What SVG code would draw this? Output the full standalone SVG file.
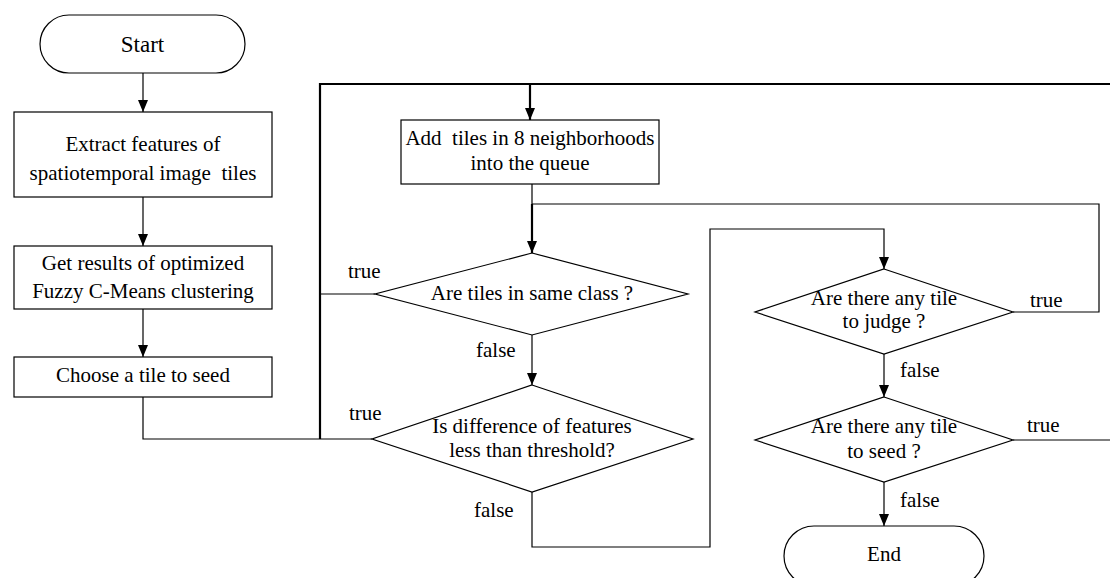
<svg xmlns="http://www.w3.org/2000/svg" width="1110" height="578" viewBox="0 0 1110 578">
  <defs>
    <marker id="arrow" viewBox="0 0 12 10" refX="12" refY="5" markerWidth="12" markerHeight="10" markerUnits="userSpaceOnUse" orient="auto">
      <path d="M0,0 L12,5 L0,10 z" fill="#000"/>
    </marker>
  </defs>
  <style>
    .shape { fill: #fff; stroke: #000; stroke-width: 1.2; }
    .line { fill: none; stroke: #000; stroke-width: 1.2; }
    .thick { fill: none; stroke: #000; stroke-width: 2.2; }
    text { font-family: "Liberation Serif", "Times New Roman", serif; font-size: 21px; fill: #000; }
    .c { text-anchor: middle; }
    .big { font-size: 23px; }
  </style>
  <rect width="1110" height="578" fill="#fff"/>

  <!-- connectors -->
  <g id="connectors">
    <path class="line" d="M143,73 V112" marker-end="url(#arrow)"/>
    <path class="line" d="M143,197 V246" marker-end="url(#arrow)"/>
    <path class="line" d="M143,309 V357" marker-end="url(#arrow)"/>
    <path class="line" d="M143,397 V439 H320"/>
    <path class="line" d="M375,294 H320"/>
    <path class="line" d="M372,439 H320"/>
    <path class="thick" d="M320,439 V84 H1110"/>
    <path class="thick" d="M530,84 V120" marker-end="url(#arrow)"/>
    <path class="line" d="M532,184 V204"/>
    <path class="thick" d="M532,204 V253" marker-end="url(#arrow)"/>
    <path class="line" d="M1013,312 H1099 V204 H532"/>
    <path class="line" d="M532,335 V385" marker-end="url(#arrow)"/>
    <path class="line" d="M532,492 V547 H710 V229 H884 V269" marker-end="url(#arrow)"/>
    <path class="line" d="M884,354 V397" marker-end="url(#arrow)"/>
    <path class="line" d="M1013,440 H1110"/>
    <path class="line" d="M884,482 V526" marker-end="url(#arrow)"/>
  </g>

  <!-- branch labels -->
  <g id="labels">
    <text x="348" y="278">true</text>
    <text x="476" y="357">false</text>
    <text x="349" y="420">true</text>
    <text x="474" y="517">false</text>
    <text x="1030" y="307">true</text>
    <text x="900" y="377">false</text>
    <text x="1027" y="432">true</text>
    <text x="900" y="507">false</text>
  </g>

  <g id="start">
    <rect class="shape" x="40" y="15" width="205" height="58" rx="29" ry="29"/>
    <text class="c big" x="142.5" y="52">Start</text>
  </g>

  <g id="extract">
    <rect class="shape" x="14" y="112" width="258" height="85"/>
    <text class="c" x="143" y="151">Extract features of</text>
    <text class="c" x="143" y="180" xml:space="preserve">spatiotemporal image  tiles</text>
  </g>

  <g id="fcm">
    <rect class="shape" x="14" y="246" width="258" height="63"/>
    <text class="c" x="143" y="270">Get results of optimized</text>
    <text class="c" x="143" y="298">Fuzzy C-Means clustering</text>
  </g>

  <g id="choose-seed">
    <rect class="shape" x="14" y="357" width="258" height="40"/>
    <text class="c" x="143" y="382">Choose a tile to seed</text>
  </g>

  <g id="add-neighbors">
    <rect class="shape" x="401" y="120" width="258" height="64"/>
    <text class="c" x="530" y="145" xml:space="preserve">Add  tiles in 8 neighborhoods</text>
    <text class="c" x="530" y="170">into the queue</text>
  </g>

  <g id="same-class">
    <polygon class="shape" points="532,253 688,294 532,335 375,294"/>
    <text class="c" x="532" y="300">Are tiles in same class ?</text>
  </g>

  <g id="threshold">
    <polygon class="shape" points="532,385 693,439 532,492 372,439"/>
    <text class="c" x="532" y="433">Is difference of features</text>
    <text class="c" x="532" y="457">less than threshold?</text>
  </g>

  <g id="any-judge">
    <polygon class="shape" points="884,269 1013,312 884,354 755,312"/>
    <text class="c" x="884" y="305">Are there any tile</text>
    <text class="c" x="884" y="328">to judge ?</text>
  </g>

  <g id="any-seed">
    <polygon class="shape" points="884,397 1013,440 884,482 755,440"/>
    <text class="c" x="884" y="433">Are there any tile</text>
    <text class="c" x="884" y="458">to seed ?</text>
  </g>

  <g id="end">
    <rect class="shape" x="784" y="526" width="200" height="60" rx="30" ry="30"/>
    <text class="c" x="884" y="561">End</text>
  </g>
</svg>
